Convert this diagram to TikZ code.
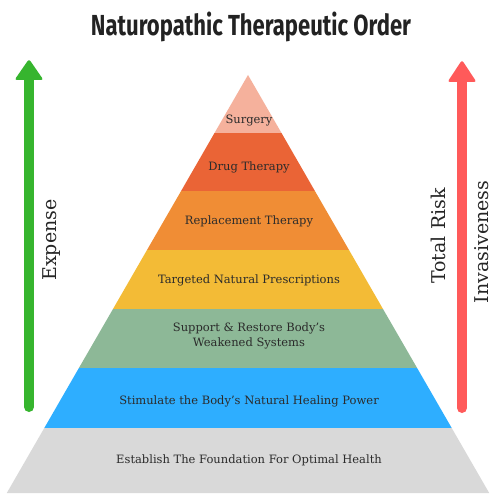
\documentclass[tikz,border=0pt]{standalone}
\usepackage{fontspec}
\setmainfont{DejaVu Serif}
\newfontfamily\titlefont{Fira Sans}[FakeStretch=0.76]
\begin{document}
\begin{tikzpicture}[x=1pt,y=-1pt,
  lbl/.style={font=\fontsize{11.5}{14.5}\selectfont, text=labelgray, align=center, inner sep=0pt},
  side/.style={font=\fontsize{19}{22}\selectfont, text=black!85, rotate=90, inner sep=0pt},
  shaft/.style={line width=10pt, line cap=round},
]
\definecolor{cSurg}{HTML}{F5B19C}
\definecolor{cDrug}{HTML}{EA6436}
\definecolor{cRepl}{HTML}{F08D35}
\definecolor{cTarg}{HTML}{F3BB36}
\definecolor{cSupp}{HTML}{8DB897}
\definecolor{cStim}{HTML}{2EAEFF}
\definecolor{cEst}{HTML}{D9D9D9}
\definecolor{cGreen}{HTML}{36B52E}
\definecolor{cRed}{HTML}{FF5A5A}
\definecolor{labelgray}{HTML}{2B2B2B}
\definecolor{titlegray}{HTML}{222222}
\useasboundingbox (0,0) rectangle (500,500);
\fill[white] (0,0) rectangle (500,500);

% pyramid bands
\fill[cSurg] (248,75) -- (281.5,133) -- (214.5,133) -- cycle;
\fill[cDrug] (214.5,133) -- (281.5,133) -- (314.9,191) -- (181.1,191) -- cycle;
\fill[cRepl] (181.1,191) -- (314.9,191) -- (349.0,250) -- (147.0,250) -- cycle;
\fill[cTarg] (147.0,250) -- (349.0,250) -- (383.0,309) -- (113.0,309) -- cycle;
\fill[cSupp] (113.0,309) -- (383.0,309) -- (417.1,368) -- (78.9,368) -- cycle;
\fill[cStim] (78.9,368) -- (417.1,368) -- (451.7,428) -- (44.3,428) -- cycle;
\fill[cEst] (44.3,428) -- (451.7,428) -- (489.2,493) -- (6.8,493) -- cycle;

% labels
\node[lbl] (surg) at (249,121) {Surgery};
\node[lbl] (drug) at (249,167) {Drug Therapy};
\node[lbl] (repl) at (249,221) {Replacement Therapy};
\node[lbl] (targ) at (249,280) {Targeted Natural Prescriptions};
\node[lbl] (supp) at (249,336) {Support \& Restore Body's\\Weakened Systems};
\node[lbl] (stim) at (249,401) {Stimulate the Body's Natural Healing Power};
\node[lbl] (est) at (249,460) {Establish The Foundation For Optimal Health};

% title
\node[font=\titlefont\bfseries\fontsize{29}{32}\selectfont, text=titlegray, inner sep=0pt] (title) at (251,27) {Naturopathic Therapeutic Order};

% arrows
\coordinate (gbot) at (29,407);
\coordinate (gtop) at (29,78);
\draw[shaft, cGreen] (gbot) -- (gtop);
\fill[cGreen, rounded corners=2.5pt] (29,59) -- (43.5,80) -- (14.5,80) -- cycle;
\coordinate (rbot) at (462,408);
\coordinate (rtop) at (462,80);
\draw[shaft, cRed] (rbot) -- (rtop);
\fill[cRed, rounded corners=2.5pt] (462,60) -- (476.5,82) -- (447.5,82) -- cycle;

\node[side] (exp) at (52,240) {Expense};
\node[side] (risk) at (438,236) {Total Risk};
\node[side] (inv) at (482,242) {Invasiveness};
\end{tikzpicture}
\end{document}
